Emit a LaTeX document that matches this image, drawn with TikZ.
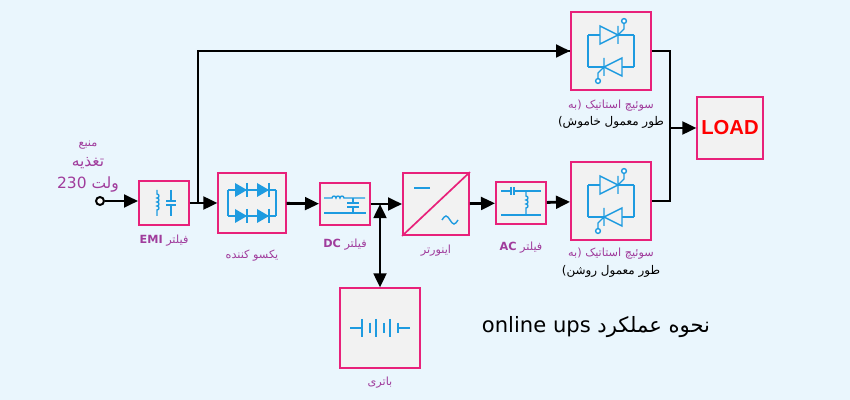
\documentclass[tikz,border=0pt]{standalone}
\usepackage{fontspec}
\setmainfont{Liberation Sans}
\newfontfamily\fa[Script=Arabic]{DejaVu Sans}
\usetikzlibrary{arrows.meta}
\TeXXeTstate=1
\definecolor{bgblue}{HTML}{EAF6FD}
\definecolor{boxpink}{HTML}{E8217A}
\definecolor{iconblue}{HTML}{1E9BE0}
\definecolor{labpurple}{HTML}{A03C9C}
\tikzset{
  block/.style={draw=boxpink, line width=1.3pt, fill=black!5, inner sep=0pt},
  flow/.style={line width=2pt, -{Triangle[length=10pt,width=9pt]}},
  wire/.style={line width=2pt},
  icon/.style={iconblue, line width=1pt},
  lab/.style={labpurple, font=\fa\fontsize{8}{9}\selectfont},
}
\newcommand{\rtl}[1]{\beginR #1\endR}
\begin{document}
\begin{tikzpicture}[x=0.025cm, y=-0.025cm]
  \fill[bgblue] (0,0) rectangle (850,400);
  \useasboundingbox (0,0) rectangle (850,400);

  % blocks
  \node[block, minimum width=1.25cm, minimum height=1.1cm] (emi) at (164,203) {};
  \node[block, minimum width=1.68cm, minimum height=1.5cm] (rect) at (252,203) {};
  \node[block, minimum width=1.25cm, minimum height=1.05cm] (dcf) at (345,204) {};
  \node[block, minimum width=1.65cm, minimum height=1.55cm] (inv) at (436,204) {};
  \node[block, minimum width=1.25cm, minimum height=1.03cm] (acf) at (521,203) {};
  \node[block, minimum width=2cm, minimum height=1.95cm] (swa) at (611,51) {};
  \node[block, minimum width=2cm, minimum height=1.95cm] (swb) at (611,201) {};
  \node[block, minimum width=1.63cm, minimum height=1.53cm, font=\bfseries\Large, text=red] (load) at (730,128) {LOAD};
  \node[block, minimum width=2cm, minimum height=1.98cm] (bat) at (380,328) {};

  % input terminal
  \node[draw, circle, line width=1.4pt, fill=white, inner sep=2pt] (src) at (100,201) {};
  \coordinate (split) at (198,203);
  \coordinate (joinA) at (670,51);
  \coordinate (joinB) at (670,201);
  \coordinate (join) at (670,128);
  \coordinate (tap) at (380,204);

  % connectors
  \draw[flow] (src) -- (emi.west |- src);
  \draw[flow] (emi) -- (rect);
  \draw[wire] (split) |- (swa.west);
  \draw[flow] (split |- swa.west) -- (swa);
  \draw[flow] (rect) -- (dcf);
  \draw[flow] (dcf) -- (inv);
  \draw[flow] (inv) -- (acf);
  \draw[flow] (acf) -- (swb);
  \draw[wire] (swa.east) -- (joinA) -- (joinB) -- (swb.east);
  \draw[flow] (join) -- (load);
  \draw[line width=2pt, {Triangle[length=10pt,width=9pt]}-{Triangle[length=10pt,width=9pt]}] (tap) -- (bat);

  % EMI icon
  \begin{scope}[shift={(emi.center)}, icon]
    \draw (-7,-13) -- (-7,-9) \foreach \k in {0,1,2,3} {to[out=0,in=0,looseness=1.6] ++(0,4)} -- (-7,13);
    \draw (7,-13) -- (7,-2) (2,-2) -- (12,-2) (2,2) -- (12,2) (7,2) -- (7,13);
  \end{scope}
  % rectifier icon
  \begin{scope}[shift={(rect.center)}, icon]
    \draw (-24,-13) -- (24,-13) (-24,13) -- (24,13) (-24,-13) -- (-24,13) (24,-13) -- (24,13);
    \foreach \dx in {-10,12} \foreach \dy in {-13,13} {
      \fill[iconblue] (\dx-7,\dy-7) -- (\dx+5,\dy) -- (\dx-7,\dy+7) -- cycle;
      \draw[line width=1.2pt] (\dx+5,\dy-7) -- (\dx+5,\dy+7);
    }
  \end{scope}
  % DC filter icon
  \begin{scope}[shift={(dcf.center)}, icon]
    \draw (-21,-6) -- (-13,-6) \foreach \k in {0,1,2} {to[out=90,in=90,looseness=1.6] ++(4,0)} -- (20,-6);
    \draw (8,-6) -- (8,-1) (2,-1) -- (14,-1) (2,3) -- (14,3) (8,3) -- (8,9);
    \draw (-21,9) -- (21,9);
  \end{scope}
  % inverter icon
  \begin{scope}[shift={(inv.center)}]
    \draw[boxpink, line width=1.2pt] (inv.south west) -- (inv.north east);
    \draw[icon] (-22,-16) -- (-6,-16);
    \draw[icon] (6,16) sin (10,12) cos (14,16) sin (18,20) cos (22,16);
  \end{scope}
  % AC filter icon
  \begin{scope}[shift={(acf.center)}, icon]
    \draw (-20,-12) -- (-10,-12) (-10,-16) -- (-10,-8) (-7,-16) -- (-7,-8) (-7,-12) -- (20,-12);
    \draw (5,-12) -- (5,-7) \foreach \k in {0,1,2} {to[out=0,in=0,looseness=1.6] ++(0,4)} -- (5,12);
    \draw (-20,12) -- (20,12);
  \end{scope}
  % static switch icons
  \foreach \sw in {swa,swb} {
    \begin{scope}[shift={(\sw.center)}, icon]
      \draw (-23,-16) -- (23,-16) (-23,16) -- (23,16);
      \draw (-23,-16) -- (-23,16) (23,-16) -- (23,16);
      \draw[fill=black!5] (-11,-25) -- (7,-16) -- (-11,-7) -- cycle;
      \draw (7,-25) -- (7,-7) (7,-16) -- (13,-22) -- (13,-28);
      \draw[fill=white] (13,-30) circle (2.4);
      \draw[fill=black!5] (11,7) -- (-7,16) -- (11,25) -- cycle;
      \draw (-7,7) -- (-7,25) (-7,16) -- (-13,22) -- (-13,28);
      \draw[fill=white] (-13,30) circle (2.4);
    \end{scope}
  }
  % battery icon
  \begin{scope}[shift={(bat.center)}, icon]
    \draw (-30,0) -- (-18,0) (18,0) -- (30,0);
    \foreach \dx/\h in {-18/9,-10/5,-4/9,4/5,10/9,18/5} \draw[line width=1.2pt] (\dx,-\h) -- (\dx,\h);
  \end{scope}

  % labels
  \node[lab] (srcA) at (88,145) {\rtl{منبع}};
  \node[lab, font=\fa\fontsize{11}{13}\selectfont] (srcB) at (88,163) {\rtl{تغذیه}};
  \node[lab, font=\fa\fontsize{11}{13}\selectfont] (srcC) at (88,185) {\rtl{ولت 230}};
  \node[lab] (emiL) at (164,241) {\rtl{فیلتر \textbf{EMI}}};
  \node[lab] (rectL) at (252,256) {\rtl{یکسو کننده}};
  \node[lab] (dcfL) at (345,245) {\rtl{فیلتر \textbf{DC}}};
  \node[lab] (invL) at (436,251) {\rtl{اینورتر}};
  \node[lab] (acfL) at (521,248) {\rtl{فیلتر \textbf{AC}}};
  \node[lab] (swaL) at (611,106) {\rtl{سوئیچ استاتیک (به}};
  \node[lab, text=black, font=\fa\fontsize{8.5}{10}\selectfont] (swaM) at (611,122) {\rtl{طور معمول خاموش)}};
  \node[lab] (swbL) at (611,254) {\rtl{سوئیچ استاتیک (به}};
  \node[lab, text=black, font=\fa\fontsize{8.5}{10}\selectfont] (swbM) at (611,271) {\rtl{طور معمول روشن)}};
  \node[lab] (batL) at (380,383) {\rtl{باتری}};
  \node[font=\fa\fontsize{15}{17}\selectfont] (title) at (596,327) {\rtl{نحوه عملکرد \beginL online ups\endL}};
\end{tikzpicture}
\end{document}
